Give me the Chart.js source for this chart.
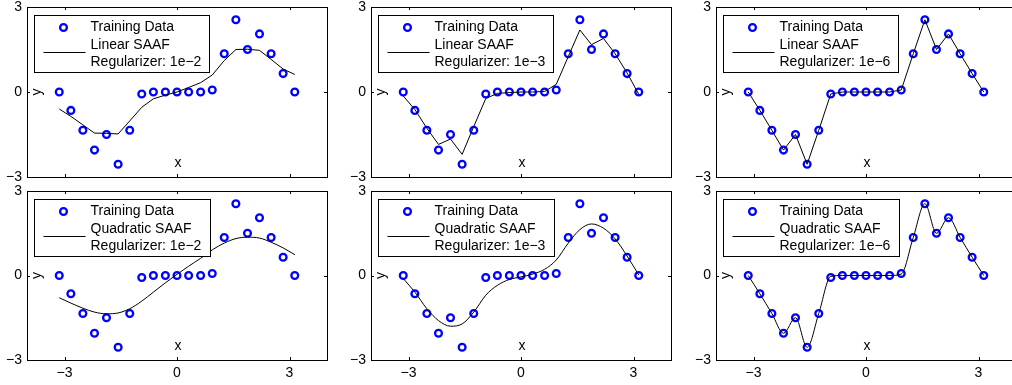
<!DOCTYPE html>
<html>
<head>
<meta charset="utf-8">
<script src="https://cdn.jsdelivr.net/npm/chart.js@4"></script>
<style>
    html, body { margin: 0; padding: 0; background: #fff; overflow: hidden; }
    body { width: 1012px; height: 385px; position: relative; }
    canvas { position: absolute; }
</style>
</head>
<body>
<div id="wrap"></div>
<script>
// --- Data ---

const xValues = [-3.14, -2.83, -2.51, -2.20, -1.88, -1.57, -1.26, -0.94, -0.63, -0.31, 0,
                 0.31, 0.63, 0.94, 1.26, 1.57, 1.88, 2.20, 2.51, 2.83, 3.14];

const trainingY = [0, -0.65, -1.35, -2.05, -1.5, -2.55, -1.35, -0.07, 0, 0, 0,
                   0, 0, 0.07, 1.35, 2.55, 1.5, 2.05, 1.35, 0.65, 0];

const linear1e2 = [-0.60, -0.86, -1.16, -1.45, -1.46, -1.48, -1.02, -0.54, -0.24, -0.11, 0,
                   0.16, 0.33, 0.60, 1.11, 1.50, 1.51, 1.47, 1.15, 0.81, 0.62];
const linear1e3 = [-0.14, -0.62, -1.28, -1.85, -1.66, -2.20, -1.22, -0.23, -0.05, -0.02, 0,
                   0, 0.02, 0.27, 1.25, 2.19, 1.67, 1.89, 1.35, 0.67, -0.08];
const linear1e6 = [0, -0.65, -1.35, -2.05, -1.5, -2.55, -1.35, -0.07, 0, 0, 0,
                   0, 0, 0.07, 1.35, 2.55, 1.5, 2.05, 1.35, 0.65, 0];

const quad1e2 = [-0.79, -0.98, -1.16, -1.30, -1.36, -1.33, -1.18, -0.91, -0.59, -0.26, 0.04,
                 0.33, 0.61, 0.91, 1.15, 1.31, 1.36, 1.33, 1.18, 0.98, 0.74];
const quad1e3 = [-0.11, -0.59, -1.18, -1.60, -1.80, -1.72, -1.30, -0.70, -0.35, -0.14, -0.05,
                 0.05, 0.22, 0.55, 1.15, 1.63, 1.83, 1.68, 1.30, 0.69, 0.02];
const quad1e6 = [0, -0.65, -1.35, -2.05, -1.5, -2.55, -1.35, -0.03, 0, 0, 0,
                 0, 0, 0.05, 1.35, 2.55, 1.5, 2.05, 1.35, 0.65, 0];

const xTicks = [-3, 0, 3];
const yTicks = [-3, 0, 3];

const panels = [
    { fit: linear1e2, title: 'Linear SAAF',    reg: 'Regularizer: 1e\u22122', col: 0, row: 0, smooth: false },
    { fit: linear1e3, title: 'Linear SAAF',    reg: 'Regularizer: 1e\u22123', col: 1, row: 0, smooth: false },
    { fit: linear1e6, title: 'Linear SAAF',    reg: 'Regularizer: 1e\u22126', col: 2, row: 0, smooth: false },
    { fit: quad1e2,   title: 'Quadratic SAAF', reg: 'Regularizer: 1e\u22122', col: 0, row: 1, smooth: true },
    { fit: quad1e3,   title: 'Quadratic SAAF', reg: 'Regularizer: 1e\u22123', col: 1, row: 1, smooth: true },
    { fit: quad1e6,   title: 'Quadratic SAAF', reg: 'Regularizer: 1e\u22126', col: 2, row: 1, smooth: true },
];

// --- Layout ---

const FAMILY = '"Liberation Sans", Arial, sans-serif';
const FONT = '14px ' + FAMILY;
const BOX_LEFT = [27, 371, 716];
const BOX_W = 300;
const Y_AXIS_W = 27;
const CANVAS_W = 344;
const ROWS = [
    { top: 0,   height: 184, pad: 7, xAxisH: 7,  labels: false },
    { top: 184, height: 201, pad: 7, xAxisH: 25, labels: true },
];

const minus = v => String(v).replace('-', '\u2212');

// frame, inward ticks, x/y labels, legend
const matlabAxes = {
    id: 'matlabAxes',
    afterDraw(chart, args, opts) {
        const ctx = chart.ctx;
        const a = chart.chartArea;
        const xs = chart.scales.x, ys = chart.scales.y;
        ctx.save();
        ctx.strokeStyle = '#000';
        ctx.lineWidth = 1;
        ctx.strokeRect(Math.round(a.left) + 0.5, Math.round(a.top) + 0.5,
                       Math.round(a.right - a.left), Math.round(a.bottom - a.top));
        ctx.beginPath();
        xTicks.forEach(v => {
            const px = Math.round(xs.getPixelForValue(v)) + 0.5;
            ctx.moveTo(px, a.bottom); ctx.lineTo(px, a.bottom - 3);
            ctx.moveTo(px, a.top); ctx.lineTo(px, a.top + 3);
        });
        yTicks.forEach(v => {
            const py = Math.round(ys.getPixelForValue(v)) + 0.5;
            ctx.moveTo(a.left, py); ctx.lineTo(a.left + 3, py);
            ctx.moveTo(a.right, py); ctx.lineTo(a.right - 3, py);
        });
        ctx.stroke();

        ctx.fillStyle = '#000';
        ctx.font = FONT;
        ctx.textAlign = 'center';
        ctx.textBaseline = 'middle';
        ctx.fillText('x', xs.getPixelForValue(0) + 1, a.bottom - 14);
        ctx.save();
        ctx.translate(a.left + 10, ys.getPixelForValue(0));
        ctx.rotate(-Math.PI / 2);
        ctx.fillText('y', 0, 0);
        ctx.restore();

        // legend
        const lx = Math.round(a.left) + 7.5, ly = Math.round(a.top) + 8.5;
        const lw = opts.width, lh = 57;
        ctx.fillStyle = '#fff';
        ctx.fillRect(lx, ly, lw, lh);
        ctx.strokeRect(lx, ly, lw, lh);
        ctx.beginPath();
        ctx.strokeStyle = '#0000ff';
        ctx.lineWidth = 2.3;
        ctx.arc(lx + 29, ly + 12, 3.4, 0, Math.PI * 2);
        ctx.stroke();
        ctx.beginPath();
        ctx.strokeStyle = '#000';
        ctx.lineWidth = 1;
        ctx.moveTo(lx + 9, ly + 37);
        ctx.lineTo(lx + 51, ly + 37);
        ctx.stroke();
        ctx.fillStyle = '#000';
        ctx.textAlign = 'left';
        ctx.fillText('Training Data', lx + 56, ly + 12);
        ctx.fillText(opts.title, lx + 56, ly + 30);
        ctx.fillText(opts.reg, lx + 56, ly + 47);
        ctx.restore();
    }
};

function noPad(s) {
    s.paddingTop = 0;
    s.paddingBottom = 0;
    s.paddingLeft = 0;
    s.paddingRight = 0;
}

panels.forEach(p => {
    const row = ROWS[p.row];
    const canvas = document.createElement('canvas');
    canvas.width = CANVAS_W;
    canvas.height = row.height;
    canvas.style.left = (BOX_LEFT[p.col] - Y_AXIS_W) + 'px';
    canvas.style.top = row.top + 'px';
    document.getElementById('wrap').appendChild(canvas);

    new Chart(canvas, {
        type: 'scatter',
        data: {
            datasets: [
                {
                    label: p.title,
                    data: xValues.map((x, i) => ({ x, y: p.fit[i] })),
                    showLine: true,
                    borderColor: '#000',
                    borderWidth: 1,
                    pointRadius: 0,
                    cubicInterpolationMode: p.smooth ? 'monotone' : 'default',
                    tension: 0
                },
                {
                    label: 'Training Data',
                    data: xValues.map((x, i) => ({ x, y: trainingY[i] })),
                    pointRadius: 3.4,
                    pointBorderWidth: 2.3,
                    pointBorderColor: '#0000ff',
                    pointBackgroundColor: 'rgba(0,0,0,0)'
                }
            ]
        },
        options: {
            responsive: false,
            animation: false,
            devicePixelRatio: 1,
            layout: { padding: { left: 0, top: row.pad, right: CANVAS_W - Y_AXIS_W - BOX_W, bottom: 0 } },
            plugins: {
                legend: { display: false },
                tooltip: { enabled: false },
                matlabAxes: { title: p.title, reg: p.reg, width: p.smooth ? 176 : 175 }
            },
            scales: {
                x: {
                    type: 'linear',
                    min: -4,
                    max: 4,
                    afterBuildTicks: s => { s.ticks = xTicks.map(v => ({ value: v })); },
                    afterFit: s => { s.height = row.xAxisH; noPad(s); },
                    grid: { display: false, drawTicks: false },
                    border: { display: false },
                    ticks: {
                        display: row.labels,
                        padding: 5,
                        color: '#000',
                        font: { family: FAMILY, size: 14 },
                        callback: v => minus(v)
                    }
                },
                y: {
                    type: 'linear',
                    min: -3,
                    max: 3,
                    afterBuildTicks: s => { s.ticks = yTicks.map(v => ({ value: v })); },
                    afterFit: s => { s.width = Y_AXIS_W; noPad(s); },
                    grid: { display: false, drawTicks: false },
                    border: { display: false },
                    ticks: {
                        padding: 5,
                        color: '#000',
                        font: { family: FAMILY, size: 14 },
                        callback: v => minus(v)
                    }
                }
            }
        },
        plugins: [matlabAxes]
    });
});
</script>
</body>
</html>
